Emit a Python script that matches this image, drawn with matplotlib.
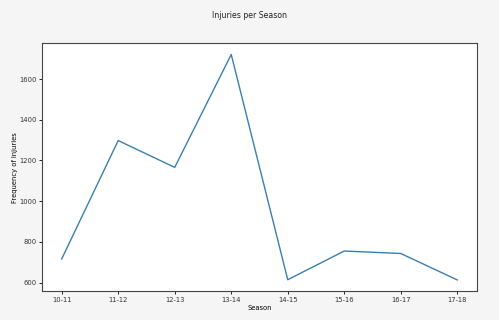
import matplotlib
matplotlib.use('Agg')
import matplotlib.pyplot as plt

# Injury counts per season
seasons = ['10-11', '11-12', '12-13', '13-14', '14-15', '15-16', '16-17', '17-18']
injuries = [716, 1298, 1166, 1721, 614, 755, 743, 613]

fig = plt.figure(figsize=(4.99, 3.2), dpi=100, facecolor='#f5f5f5')
ax = fig.add_axes([0.084, 0.09, 0.872, 0.775])
ax.set_facecolor('white')

ax.plot(seasons, injuries, color='#3a7fb0', linewidth=1.0)

fig.suptitle('Injuries per Season', fontsize=5.6, y=0.965, color='#222222')
ax.set_xlabel('Season', fontsize=4.9, labelpad=1.5)
ax.set_ylabel('Frequency of Injuries', fontsize=4.9, labelpad=1)
ax.tick_params(labelsize=4.9, length=2, width=0.6, pad=2, labelcolor='#333333')
for spine in ax.spines.values():
    spine.set_linewidth(0.8)
    spine.set_color('#444444')

fig.savefig('out.png', dpi=100, facecolor=fig.get_facecolor())
